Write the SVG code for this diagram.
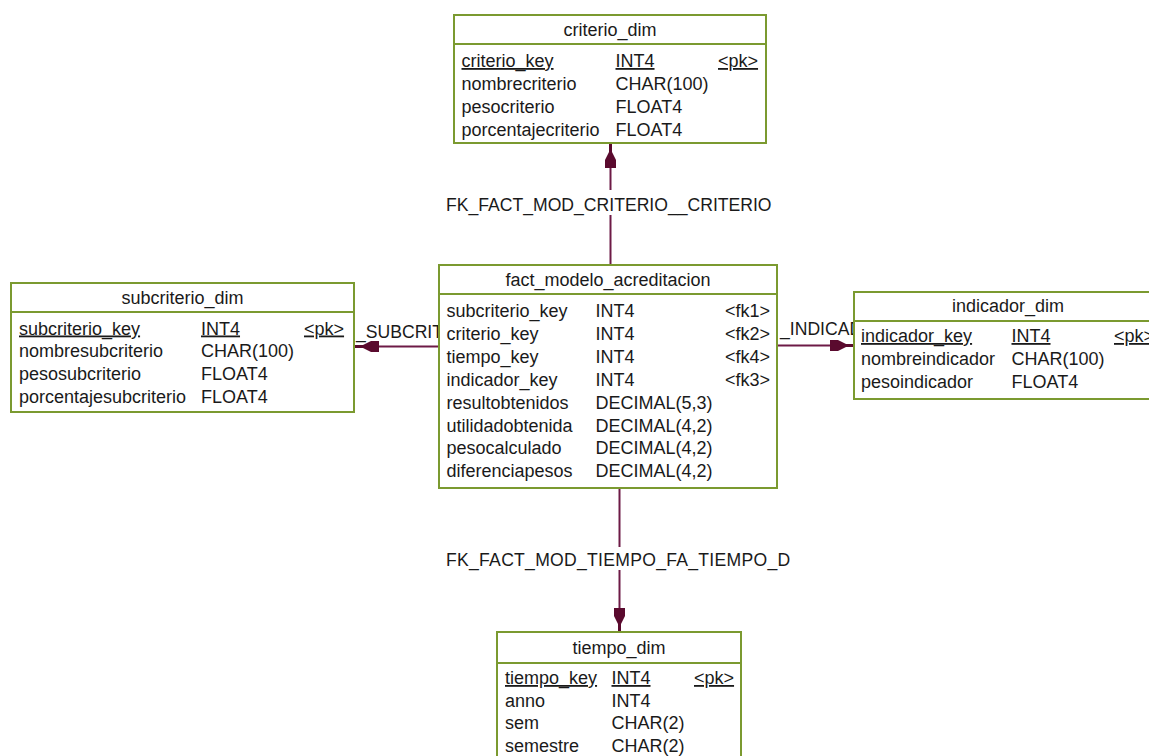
<svg xmlns="http://www.w3.org/2000/svg" width="1149" height="756" viewBox="0 0 1149 756">
  <style>
    .box { fill: #ffffff; stroke: #7b9a30; stroke-width: 2; }
    .sep { stroke: #7b9a30; stroke-width: 2; }
    .t { font-family: "Liberation Sans", Arial, sans-serif; font-size: 18px; fill: #1a1a1a; }
    .title { text-anchor: middle; }
    .key { text-decoration: underline; }
    .lbl { font-family: "Liberation Sans", Arial, sans-serif; font-size: 17.6px; fill: #1a1a1a; }
    .ref { stroke: #6d1a46; stroke-width: 2; fill: none; }
    .head { fill: #5a0a2e; }
  </style>
  <defs>
    <!-- FK arrowhead, tip at origin, pointing along +x -->
    <path id="fk-arrow" class="head" d="M0,-1.5 L-8,-1.5 L-16,-5.5 L-24,-5.5 L-24,5.5 L-16,5.5 L-8,1.5 L0,1.5 Z"/>
  </defs>

  <!-- references -->
  <g id="connectors">
    <!-- fact -> criterio_dim -->
    <line class="ref" x1="610.5" y1="265" x2="610.5" y2="215"/>
    <line class="ref" x1="610.5" y1="190" x2="610.5" y2="146"/>
    <use href="#fk-arrow" transform="translate(610.5,144) rotate(-90)"/>
    <text class="lbl" x="446" y="210.5">FK_FACT_MOD_CRITERIO__CRITERIO</text>

    <!-- fact -> tiempo_dim -->
    <line class="ref" x1="619.5" y1="488" x2="619.5" y2="547"/>
    <line class="ref" x1="619.5" y1="570" x2="619.5" y2="630"/>
    <use href="#fk-arrow" transform="translate(619.5,632) rotate(90)"/>
    <text class="lbl" x="446" y="566" letter-spacing="0.27">FK_FACT_MOD_TIEMPO_FA_TIEMPO_D</text>

    <!-- fact -> subcriterio_dim -->
    <line class="ref" x1="439" y1="346.5" x2="357" y2="346.5"/>
    <use href="#fk-arrow" transform="translate(355,346.5) rotate(180)"/>
    <text class="lbl" x="356" y="338">_SUBCRIT</text>

    <!-- fact -> indicador_dim -->
    <line class="ref" x1="777" y1="345.5" x2="852" y2="345.5"/>
    <use href="#fk-arrow" transform="translate(854,345.5)"/>
    <text class="lbl" x="780" y="334.5">_INDICAD</text>
  </g>

  <g id="criterio_dim">
    <rect class="box" x="454" y="15" width="312" height="128"/>
    <line class="sep" x1="454" y1="44" x2="766" y2="44"/>
    <text class="t title" x="610" y="36">criterio_dim</text>
    <text class="t key" x="461.5" y="67">criterio_key</text>
    <text class="t key" x="615.5" y="67">INT4</text>
    <text class="t key" x="718" y="67">&lt;pk&gt;</text>
    <text class="t" x="461.5" y="90">nombrecriterio</text>
    <text class="t" x="615.5" y="90">CHAR(100)</text>
    <text class="t" x="461.5" y="113">pesocriterio</text>
    <text class="t" x="615.5" y="113">FLOAT4</text>
    <text class="t" x="461.5" y="136">porcentajecriterio</text>
    <text class="t" x="615.5" y="136">FLOAT4</text>
  </g>

  <g id="fact_modelo_acreditacion">
    <rect class="box" x="439" y="265" width="338" height="223"/>
    <line class="sep" x1="439" y1="294" x2="777" y2="294"/>
    <text class="t title" x="608" y="286">fact_modelo_acreditacion</text>
    <text class="t" x="446.5" y="317">subcriterio_key</text>
    <text class="t" x="595.5" y="317">INT4</text>
    <text class="t" x="725" y="317">&lt;fk1&gt;</text>
    <text class="t" x="446.5" y="340">criterio_key</text>
    <text class="t" x="595.5" y="340">INT4</text>
    <text class="t" x="725" y="340">&lt;fk2&gt;</text>
    <text class="t" x="446.5" y="363">tiempo_key</text>
    <text class="t" x="595.5" y="363">INT4</text>
    <text class="t" x="725" y="363">&lt;fk4&gt;</text>
    <text class="t" x="446.5" y="386">indicador_key</text>
    <text class="t" x="595.5" y="386">INT4</text>
    <text class="t" x="725" y="386">&lt;fk3&gt;</text>
    <text class="t" x="446.5" y="408.5">resultobtenidos</text>
    <text class="t" x="595.5" y="408.5">DECIMAL(5,3)</text>
    <text class="t" x="446.5" y="431.5">utilidadobtenida</text>
    <text class="t" x="595.5" y="431.5">DECIMAL(4,2)</text>
    <text class="t" x="446.5" y="454">pesocalculado</text>
    <text class="t" x="595.5" y="454">DECIMAL(4,2)</text>
    <text class="t" x="446.5" y="477">diferenciapesos</text>
    <text class="t" x="595.5" y="477">DECIMAL(4,2)</text>
  </g>

  <g id="subcriterio_dim">
    <rect class="box" x="11" y="283" width="343" height="129"/>
    <line class="sep" x1="11" y1="312" x2="354" y2="312"/>
    <text class="t title" x="182.5" y="304">subcriterio_dim</text>
    <text class="t key" x="19" y="334.5">subcriterio_key</text>
    <text class="t key" x="201" y="334.5">INT4</text>
    <text class="t key" x="304" y="334.5">&lt;pk&gt;</text>
    <text class="t" x="19" y="357">nombresubcriterio</text>
    <text class="t" x="201" y="357">CHAR(100)</text>
    <text class="t" x="19" y="380">pesosubcriterio</text>
    <text class="t" x="201" y="380">FLOAT4</text>
    <text class="t" x="19" y="402.5">porcentajesubcriterio</text>
    <text class="t" x="201" y="402.5">FLOAT4</text>
  </g>

  <!-- this table runs past the right edge of the sheet -->
  <g id="indicador_dim">
    <rect class="box" x="854" y="292" width="310" height="107"/>
    <line class="sep" x1="854" y1="321" x2="1164" y2="321"/>
    <text class="t title" x="1008" y="311.5">indicador_dim</text>
    <text class="t key" x="861" y="342">indicador_key</text>
    <text class="t key" x="1011.5" y="342">INT4</text>
    <text class="t key" x="1114" y="342">&lt;pk&gt;</text>
    <text class="t" x="861" y="365">nombreindicador</text>
    <text class="t" x="1011.5" y="365">CHAR(100)</text>
    <text class="t" x="861" y="388">pesoindicador</text>
    <text class="t" x="1011.5" y="388">FLOAT4</text>
  </g>

  <g id="tiempo_dim">
    <rect class="box" x="497" y="632" width="244" height="140"/>
    <line class="sep" x1="497" y1="663" x2="741" y2="663"/>
    <text class="t title" x="619" y="653.5">tiempo_dim</text>
    <text class="t key" x="505" y="684">tiempo_key</text>
    <text class="t key" x="611.5" y="684">INT4</text>
    <text class="t key" x="694" y="684">&lt;pk&gt;</text>
    <text class="t" x="505" y="706.5">anno</text>
    <text class="t" x="611.5" y="706.5">INT4</text>
    <text class="t" x="505" y="729">sem</text>
    <text class="t" x="611.5" y="729">CHAR(2)</text>
    <text class="t" x="505" y="751.5">semestre</text>
    <text class="t" x="611.5" y="751.5">CHAR(2)</text>
  </g>
</svg>
